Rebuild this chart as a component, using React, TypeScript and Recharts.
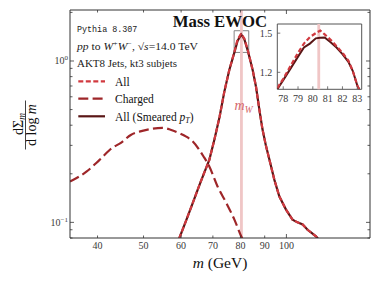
import React from 'react';
import { LineChart, Line, XAxis, YAxis, ReferenceLine, ReferenceArea } from 'recharts';

// ---------- data ----------
const massAll = [58.5, 59.5, 61.5, 63.5, 65.6, 67.2, 68.8, 70.5, 72.3, 74.0, 75.8, 77.7, 78.9, 80.3, 81.5, 82.9, 84.9, 86.3, 87.7, 89.0, 90.5, 92.1, 94.3, 96.6, 99.8, 103.0, 105.5, 108.2, 110.8, 113.0, 115.4, 118.0];
const valuesAll = [0.072, 0.080, 0.103, 0.132, 0.171, 0.205, 0.244, 0.325, 0.45, 0.646, 0.88, 1.14, 1.36, 1.48, 1.38, 1.17, 0.88, 0.69, 0.50, 0.38, 0.30, 0.244, 0.184, 0.145, 0.120, 0.104, 0.100, 0.097, 0.090, 0.086, 0.082, 0.076];
const valuesSmeared = [0.072, 0.080, 0.103, 0.132, 0.171, 0.205, 0.244, 0.325, 0.45, 0.646, 0.88, 1.13, 1.33, 1.46, 1.37, 1.16, 0.88, 0.69, 0.50, 0.38, 0.30, 0.244, 0.184, 0.145, 0.120, 0.104, 0.100, 0.097, 0.090, 0.086, 0.082, 0.076];

const massCharged = [35, 37.9, 40.4, 43, 44.8, 47, 49.7, 52, 54.8, 57, 59.5, 61.5, 63.5, 66.9, 68.8, 71.6, 74.7, 77.7, 80.3, 81.5];
const valuesCharged = [0.179, 0.206, 0.244, 0.29, 0.311, 0.348, 0.369, 0.38, 0.385, 0.375, 0.357, 0.34, 0.317, 0.256, 0.222, 0.167, 0.132, 0.104, 0.082, 0.075];

const insetMass = [77.6, 78.0, 78.5, 79.0, 79.4, 79.8, 80.2, 80.5, 80.8, 81.2, 81.6, 82.0, 82.4, 82.7, 83.0, 83.3];
const insetAll = [1.08, 1.15, 1.25, 1.35, 1.42, 1.47, 1.50, 1.52, 1.49, 1.45, 1.40, 1.35, 1.29, 1.21, 1.10, 1.03];
const insetSmeared = [1.07, 1.14, 1.23, 1.32, 1.39, 1.42, 1.46, 1.465, 1.466, 1.43, 1.39, 1.34, 1.28, 1.21, 1.10, 1.03];

const xTicks = [40, 50, 60, 70, 80, 90, 100];
const xMajor = [100];
const yTicks = [0.08, 0.09, 0.1, 0.2, 0.3, 0.4, 0.5, 0.6, 0.7, 0.8, 0.9, 1, 2];
const yMajor = [0.1, 1];
const insetXTicks = [78, 79, 80, 81, 82, 83];
const insetYTicks = [1.2, 1.5];
const massW = 80.4;

// ---------- styles ----------
const C_ALL = '#d1393f';
const C_CH = '#9e2629';
const C_SM = '#5a1616';
const C_AX = '#333';
const C_TXT = '#3a3a3a';
const SERIF = 'Liberation Serif';

const rows = (xs: number[], ys: number[]) => xs.map((m, i) => ({ m, v: ys[i] }));

const LeftTick = (p: any) => {
  const v = p.payload.value;
  const major = yMajor.includes(v);
  return (
    <g>
      <line x1={p.x} x2={p.x + (major ? 4 : 2.5)} y1={p.y} y2={p.y} stroke={C_AX} strokeWidth={0.8} />
      {major && (
        <text x={p.x - 2} y={p.y + 3.5} textAnchor="end" fontFamily={SERIF} fontSize={10} fill={C_TXT}>
          10<tspan dy={-4} fontSize={7}>{v === 1 ? '0' : '\u22121'}</tspan>
        </text>
      )}
    </g>
  );
};
const RightTick = (p: any) => {
  const major = yMajor.includes(p.payload.value);
  return <line x1={p.x} x2={p.x - (major ? 4 : 2.5)} y1={p.y} y2={p.y} stroke={C_AX} strokeWidth={0.8} />;
};
const BottomTick = (p: any) => {
  const v = p.payload.value;
  const major = xMajor.includes(v);
  return (
    <g>
      <line x1={p.x} x2={p.x} y1={p.y} y2={p.y - (major ? 4 : 2.5)} stroke={C_AX} strokeWidth={0.8} />
      <text x={p.x} y={p.y + 10.5} textAnchor="middle" fontFamily={SERIF} fontSize={10} fill={C_TXT}>{v}</text>
    </g>
  );
};
const TopTick = (p: any) => {
  const major = xMajor.includes(p.payload.value);
  return <line x1={p.x} x2={p.x} y1={p.y} y2={p.y + (major ? 4 : 2.5)} stroke={C_AX} strokeWidth={0.8} />;
};
const InsetLeftTick = (p: any) => (
  <g>
    <line x1={p.x} x2={p.x + 3} y1={p.y} y2={p.y} stroke="#555" strokeWidth={0.8} />
    <text x={p.x - 5} y={p.y + 3.5} textAnchor="end" fontFamily={SERIF} fontSize={10} fill={C_TXT}>{p.payload.value.toFixed(1)}</text>
  </g>
);
const InsetBottomTick = (p: any) => (
  <g>
    <line x1={p.x} x2={p.x} y1={p.y} y2={p.y - 3} stroke="#555" strokeWidth={0.8} />
    <text x={p.x} y={p.y + 13} textAnchor="middle" fontFamily={SERIF} fontSize={10} fill={C_TXT}>{p.payload.value}</text>
  </g>
);

export default function App() {
  return (
    <div style={{ position: 'absolute', left: 0, top: 0, width: 381, height: 285, background: '#fff' }}>
      <LineChart width={381} height={285} margin={{ top: 9, right: 10, bottom: 46, left: 69 }}>
        <XAxis xAxisId="b" dataKey="m" type="number" scale="log" domain={[35, 150]} allowDataOverflow ticks={xTicks} interval={0}
          height={1} tickSize={0} tickMargin={0} tick={<BottomTick />} axisLine={{ stroke: C_AX, strokeWidth: 1 }} tickLine={false} />
        <XAxis xAxisId="t" orientation="top" dataKey="m" type="number" scale="log" domain={[35, 150]} allowDataOverflow ticks={xTicks} interval={0}
          height={1} tickSize={0} tickMargin={0} tick={<TopTick />} axisLine={{ stroke: C_AX, strokeWidth: 1 }} tickLine={false} />
        <YAxis yAxisId="l" dataKey="v" type="number" scale="log" domain={[0.08, 2.07]} allowDataOverflow ticks={yTicks} interval={0}
          width={1} tickSize={0} tickMargin={0} tick={<LeftTick />} axisLine={{ stroke: C_AX, strokeWidth: 1 }} tickLine={false} />
        <YAxis yAxisId="r" orientation="right" dataKey="v" type="number" scale="log" domain={[0.08, 2.07]} allowDataOverflow ticks={yTicks} interval={0}
          width={1} tickSize={0} tickMargin={0} tick={<RightTick />} axisLine={{ stroke: C_AX, strokeWidth: 1 }} tickLine={false} />
        <ReferenceLine xAxisId="b" yAxisId="l" x={massW} stroke="#f0c6c6" strokeWidth={2.8} />
        <ReferenceArea xAxisId="b" yAxisId="l" x1={77.6} x2={83.3} y1={1.13} y2={1.54} stroke="#777" strokeWidth={0.9} fill="none" fillOpacity={0} />
        <Line xAxisId="b" yAxisId="l" data={rows(massCharged, valuesCharged)} dataKey="v" type="monotone" dot={false} stroke={C_CH} strokeWidth={2.2} strokeDasharray="10 4.3" isAnimationActive={false} />
        <Line xAxisId="t" yAxisId="r" data={rows(massAll, valuesSmeared)} dataKey="v" type="linear" dot={false} stroke={C_SM} strokeWidth={2.2} isAnimationActive={false} />
        <Line xAxisId="b" yAxisId="l" data={rows(massAll, valuesAll)} dataKey="v" type="linear" dot={false} stroke={C_ALL} strokeWidth={2.2} strokeDasharray="5 2.5" isAnimationActive={false} />
      </LineChart>

      <div style={{ position: 'absolute', left: 240, top: 15, width: 130, height: 100 }}>
        <LineChart width={130} height={100} margin={{ top: 9, right: 8.3, bottom: 24.7, left: 36.3 }}>
          <XAxis dataKey="m" type="number" domain={[77.6, 83.3]} allowDataOverflow ticks={insetXTicks} interval={0}
            height={1} tickSize={0} tickMargin={0} tick={<InsetBottomTick />} axisLine={false} tickLine={false} />
          <YAxis dataKey="v" type="number" domain={[1.07, 1.57]} allowDataOverflow ticks={insetYTicks} interval={0}
            width={1} tickSize={0} tickMargin={0} tick={<InsetLeftTick />} axisLine={false} tickLine={false} />
          <ReferenceLine x={massW} stroke="#f0c6c6" strokeWidth={2.8} />
          <Line data={rows(insetMass, insetSmeared)} dataKey="v" type="linear" dot={false} stroke={C_SM} strokeWidth={2} isAnimationActive={false} />
          <Line data={rows(insetMass, insetAll)} dataKey="v" type="linear" dot={false} stroke={C_ALL} strokeWidth={2.2} strokeDasharray="4.5 2.5" isAnimationActive={false} />
          <ReferenceArea x1={77.6} x2={83.3} y1={1.07} y2={1.57} stroke="#555" strokeWidth={1} fill="none" fillOpacity={0} />
        </LineChart>
      </div>

      <svg width={381} height={285} style={{ position: 'absolute', left: 0, top: 0, pointerEvents: 'none' }} fontFamily={SERIF}>
        <text x={172.7} y={26.5} fontSize={16} fontWeight="bold" fill="#111" textLength={94.5} lengthAdjust="spacingAndGlyphs">Mass EWOC</text>
        <text x={77} y={32.3} fontFamily="Liberation Mono" fontSize={8.4} fill="#222">Pythia 8.307</text>
        <text x={77} y={49.5} fontSize={10} fill="#222" textLength={121} lengthAdjust="spacingAndGlyphs">
          <tspan fontStyle="italic">pp</tspan> to <tspan fontStyle="italic">W</tspan><tspan dy={-3.5} fontSize={7}>+</tspan><tspan dy={3.5} fontStyle="italic">W</tspan><tspan dy={-3.5} fontSize={7}>{'\u2212'}</tspan><tspan dy={3.5}>, {'\u221A'}</tspan><tspan fontStyle="italic">s</tspan>=14.0 TeV
        </text>
        <text x={77} y={66.5} fontSize={9.5} fill="#222" textLength={100} lengthAdjust="spacingAndGlyphs">AKT8 Jets, kt3 subjets</text>

        <line x1={78.3} x2={105} y1={81.3} y2={81.3} stroke={C_ALL} strokeWidth={2.2} strokeDasharray="5 2.5" />
        <line x1={78.3} x2={105} y1={98.7} y2={98.7} stroke={C_CH} strokeWidth={2.2} strokeDasharray="10 4.3" />
        <line x1={78.3} x2={105} y1={116.3} y2={116.3} stroke={C_SM} strokeWidth={2.2} />
        <text x={115} y={85.5} fontSize={11.5} fill="#111">All</text>
        <text x={115} y={103} fontSize={11.5} fill="#111">Charged</text>
        <text x={115} y={120.5} fontSize={11.5} fill="#111">All (Smeared <tspan fontStyle="italic">p</tspan><tspan dy={2.5} fontSize={8} fontStyle="italic">T</tspan><tspan dy={-2.5}>)</tspan></text>

        <text x={234.5} y={110} fontSize={14} fontStyle="italic" fill="#d4676b">m<tspan dy={2.5} fontSize={9.5}>W</tspan></text>

        <g transform="translate(22.5,124) rotate(-90)">
          <text textAnchor="middle" fontSize={14} fill="#111">d{'\u03A3'}<tspan dy={2.5} fontSize={9.5} fontStyle="italic">m</tspan></text>
        </g>
        <line x1={25.5} x2={25.5} y1={100.5} y2={149.5} stroke="#111" strokeWidth={0.8} />
        <g transform="translate(36,125) rotate(-90)">
          <text textAnchor="middle" fontSize={14} fill="#111">d log <tspan fontStyle="italic">m</tspan></text>
        </g>

        <text x={220} y={268} textAnchor="middle" fontSize={15.5} fill="#111"><tspan fontStyle="italic">m</tspan> (GeV)</text>
      </svg>
    </div>
  );
}
